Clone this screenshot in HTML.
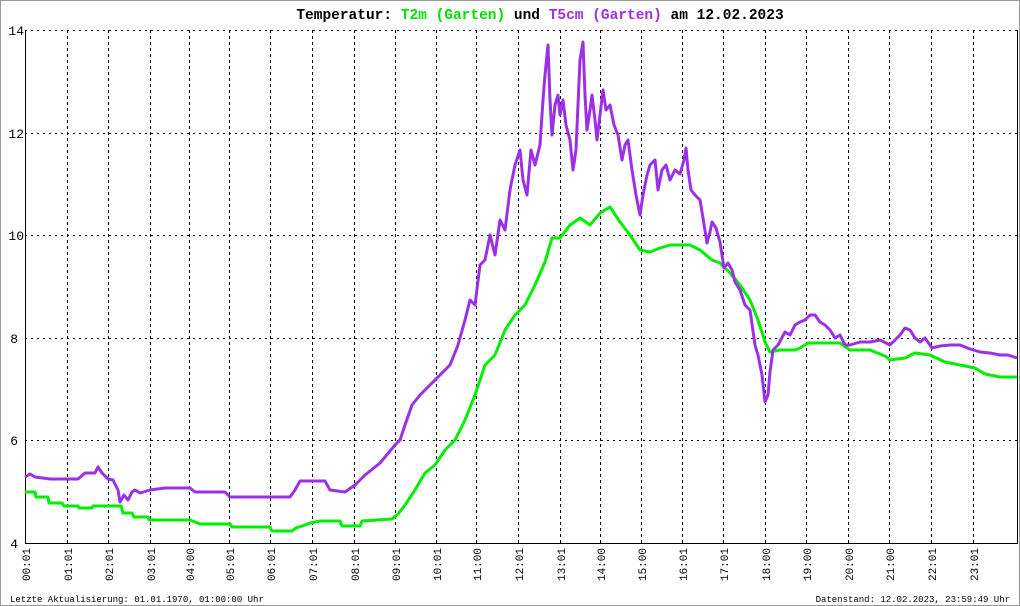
<!DOCTYPE html>
<html><head><meta charset="utf-8"><style>
html,body{margin:0;padding:0;background:#fff;}
svg{display:block;}
text{font-family:"Liberation Mono","DejaVu Sans Mono",monospace;}
</style></head><body>
<svg width="1020" height="606" viewBox="0 0 1020 606" xmlns="http://www.w3.org/2000/svg">
<rect x="0.5" y="0.5" width="1019" height="605" fill="#fff" stroke="#999"/>
<text x="540" y="19" text-anchor="middle" font-size="14.5" font-weight="bold" fill="#000">Temperatur: <tspan fill="#00e000">T2m (Garten)</tspan> und <tspan fill="#9b30e8">T5cm (Garten)</tspan> am 12.02.2023</text>
<g stroke="#000" stroke-width="1" stroke-dasharray="3,3">
<line x1="25" y1="30.5" x2="1017" y2="30.5" stroke-dasharray="2,4"/>
<line x1="25" y1="133.5" x2="1017" y2="133.5" stroke-dasharray="2,4"/>
<line x1="25" y1="235.5" x2="1017" y2="235.5" stroke-dasharray="2,4"/>
<line x1="25" y1="338.5" x2="1017" y2="338.5" stroke-dasharray="2,4"/>
<line x1="25" y1="440.5" x2="1017" y2="440.5" stroke-dasharray="2,4"/>
<line x1="67.5" y1="30" x2="67.5" y2="543"/><line x1="108.5" y1="30" x2="108.5" y2="543"/>
<line x1="150.5" y1="30" x2="150.5" y2="543"/><line x1="189.5" y1="30" x2="189.5" y2="543"/>
<line x1="229.5" y1="30" x2="229.5" y2="543"/><line x1="270.5" y1="30" x2="270.5" y2="543"/>
<line x1="312.5" y1="30" x2="312.5" y2="543"/><line x1="354.5" y1="30" x2="354.5" y2="543"/>
<line x1="395.5" y1="30" x2="395.5" y2="543"/><line x1="436.5" y1="30" x2="436.5" y2="543"/>
<line x1="476.5" y1="30" x2="476.5" y2="543"/><line x1="518.5" y1="30" x2="518.5" y2="543"/>
<line x1="560.5" y1="30" x2="560.5" y2="543"/><line x1="600.5" y1="30" x2="600.5" y2="543"/>
<line x1="641.5" y1="30" x2="641.5" y2="543"/><line x1="682.5" y1="30" x2="682.5" y2="543"/>
<line x1="723.5" y1="30" x2="723.5" y2="543"/><line x1="765.5" y1="30" x2="765.5" y2="543"/>
<line x1="806.5" y1="30" x2="806.5" y2="543"/><line x1="848.5" y1="30" x2="848.5" y2="543"/>
<line x1="889.5" y1="30" x2="889.5" y2="543"/><line x1="931.5" y1="30" x2="931.5" y2="543"/>
<line x1="973.5" y1="30" x2="973.5" y2="543"/>
</g>
<line x1="25.5" y1="30" x2="25.5" y2="543" stroke="#000"/>
<line x1="25" y1="543.5" x2="1018" y2="543.5" stroke="#000"/>
<line x1="1017.5" y1="30" x2="1017.5" y2="543" stroke="#000"/>
<g font-size="13" fill="#000" text-anchor="end">
<text x="24" y="35">14</text><text x="24" y="138">12</text><text x="24" y="240">10</text>
<text x="18" y="343">8</text><text x="18" y="445">6</text><text x="18" y="548">4</text>
</g>
<g font-size="11" fill="#000" text-anchor="end">
<text transform="translate(30,548) rotate(-90)">00:01</text>
<text transform="translate(72,548) rotate(-90)">01:01</text>
<text transform="translate(113,548) rotate(-90)">02:01</text>
<text transform="translate(155,548) rotate(-90)">03:01</text>
<text transform="translate(194,548) rotate(-90)">04:00</text>
<text transform="translate(234,548) rotate(-90)">05:01</text>
<text transform="translate(275,548) rotate(-90)">06:01</text>
<text transform="translate(317,548) rotate(-90)">07:01</text>
<text transform="translate(359,548) rotate(-90)">08:01</text>
<text transform="translate(400,548) rotate(-90)">09:01</text>
<text transform="translate(441,548) rotate(-90)">10:01</text>
<text transform="translate(481,548) rotate(-90)">11:00</text>
<text transform="translate(523,548) rotate(-90)">12:01</text>
<text transform="translate(565,548) rotate(-90)">13:01</text>
<text transform="translate(605,548) rotate(-90)">14:00</text>
<text transform="translate(646,548) rotate(-90)">15:00</text>
<text transform="translate(687,548) rotate(-90)">16:01</text>
<text transform="translate(728,548) rotate(-90)">17:01</text>
<text transform="translate(770,548) rotate(-90)">18:00</text>
<text transform="translate(811,548) rotate(-90)">19:00</text>
<text transform="translate(853,548) rotate(-90)">20:00</text>
<text transform="translate(894,548) rotate(-90)">21:00</text>
<text transform="translate(936,548) rotate(-90)">22:01</text>
<text transform="translate(978,548) rotate(-90)">23:01</text>
</g>
<g font-size="9" fill="#000">
<text x="10" y="602">Letzte Aktualisierung: 01.01.1970, 01:00:00 Uhr</text>
<text x="1010" y="602" text-anchor="end">Datenstand: 12.02.2023, 23:59:49 Uhr</text>
</g>
<polyline fill="none" stroke="#00ee00" stroke-width="3" stroke-linejoin="round" points="25,492 35,492 36,497 48,497 49,503 62,503 64,506 78,506 79,508 92,508 93,506 121,506 123,513 132,513 134,517 148,517 149,520 180,520 190,520 200,524 230,524 232,527 270,527 272,531 292,531 296,528 305,525 310,523 320,521 340,521 342,526 360,526 362,521 392,519 398,514 405,505 415,490 425,473 435,465 445,450 455,440 465,420 475,395 485,365 495,355 505,330 515,315 525,305 535,285 545,262 552,238 560,238 570,225 580,218 590,225 600,213 610,207 620,222 630,235 640,250 650,252 660,248 670,245 690,245 700,250 712,260 720,263 730,273 740,285 750,300 758,320 765,342 770,352 780,350 795,350 800,348 808,343 840,343 850,350 870,350 885,356 890,360 905,358 915,353 930,355 945,362 960,365 975,368 985,374 1000,377 1017,377"/>
<polyline fill="none" stroke="#9b30e8" stroke-width="3" stroke-linejoin="round" points="25,477 30,474 35,477 50,479 65,479 78,479 85,473 95,473 98,467 102,473 108,479 113,480 118,490 120,502 124,495 128,500 132,492 135,490 140,493 150,490 165,488 180,488 190,488 195,492 225,492 230,497 290,497 295,490 300,481 325,481 330,490 345,492 355,485 365,475 380,463 395,445 400,440 405,425 412,405 420,395 430,385 440,375 450,365 458,345 465,320 470,300 475,305 480,265 485,260 490,235 495,255 500,220 505,230 510,190 515,165 520,150 523,180 527,195 531,150 535,165 540,145 543,100 545,75 548,45 550,100 552,135 555,105 558,95 560,115 563,100 566,125 570,140 573,170 576,150 580,60 583,42 585,95 587,130 590,110 592,95 595,120 597,140 600,115 603,90 606,110 610,105 614,125 618,135 622,160 625,145 628,140 632,170 636,195 640,215 643,195 647,175 650,165 655,160 658,190 662,170 666,165 670,180 675,170 680,174 684,160 686,148 688,170 691,190 695,195 700,200 703,218 707,243 710,232 712,222 716,228 720,242 724,268 728,263 732,270 735,282 740,290 745,305 750,310 755,345 758,355 762,375 765,402 768,395 770,372 773,350 778,345 785,332 790,335 795,325 800,322 805,320 810,315 815,315 820,322 825,325 830,330 835,338 840,335 845,345 850,345 860,342 870,342 880,340 890,345 895,340 900,335 905,328 910,330 915,338 920,342 925,338 932,348 940,346 950,345 960,345 970,349 980,352 990,353 1000,355 1008,355 1017,358"/>
</svg>
</body></html>
